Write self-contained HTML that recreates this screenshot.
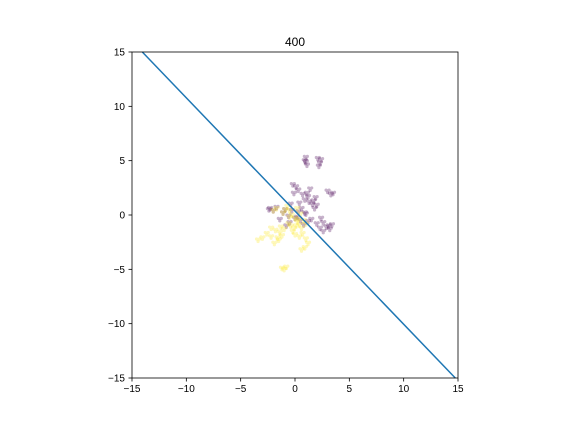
<!DOCTYPE html>
<html><head><meta charset="utf-8"><style>
body{margin:0;background:#fff}
svg text{font-family:"Liberation Sans","DejaVu Sans",sans-serif;font-size:10px;fill:#000}
</style></head><body>
<svg id="c" width="576" height="432">
<rect x="0" y="0" width="576" height="432" fill="#fff"/>
<g id="pts"></g>
<g id="ln"></g>
<rect x="132" y="52" width="326" height="326" fill="none" stroke="#000" stroke-width="0.8"/>
<g id="ax"></g>
<text x="295" y="46" text-anchor="middle" style="font-size:12px">400</text>
</svg>
<script>
const ticks=[-15,-10,-5,0,5,10,15];
const lineX=[-14.05,14.75];
const lineY=[15,-15];
const purpleX=[1.0,1.0,1.1,0.9,2.1,2.3,2.2,2.4,-0.2,0.1,0.3,-0.1,1.1,1.2,0.9,1.3,1.6,1.8,1.7,2.0,3.0,3.3,3.5,3.1,3.2,3.4,2.9,2.6,2.3,2.0,2.4,1.5,1.2,0.8,0.5,0.3,0.6,0.9,0.2,-0.3,-0.6,-0.9,-1.1,-2.3,-2.0,-1.7,-2.4,-1.4,-0.5,-0.8,1.9,0.7,0.4,1.4,2.6,-0.4,0.0,1.0];
const purpleY=[5.3,4.9,4.6,5.0,5.2,4.8,4.5,5.1,2.8,2.6,2.3,2.0,2.0,1.7,1.4,1.2,1.0,0.6,1.3,0.9,2.2,1.9,2.0,-1.0,-1.3,-0.9,-1.1,-0.7,-1.2,-0.8,-0.3,-0.4,-0.6,-0.9,-0.5,0.3,0.6,0.2,-0.2,0.4,-0.1,0.5,0.2,0.6,0.4,0.7,0.5,-0.4,-0.7,-1.0,1.6,1.9,1.1,2.4,-1.5,1.0,-0.3,0.1];
const yellowX=[-0.9,-1.1,-0.7,-0.5,-0.3,0.0,0.2,0.4,0.6,-0.2,0.1,0.3,0.5,0.8,1.0,-0.1,-0.4,-0.6,-1.0,-1.4,-1.8,-2.2,-2.6,-3.0,-3.4,-1.5,-1.9,-2.2,-1.6,-1.2,0.7,1.0,1.2,0.9,0.6,0.4,-1.2,-1.0,-0.8,-2.0,-1.7,0.2,-0.5,0.0,-1.3];
const yellowY=[0.5,0.2,0.8,0.4,0.0,-0.3,-0.6,-0.9,-1.2,-1.5,-1.0,-0.4,0.1,-0.5,-0.8,-1.2,-1.0,-0.8,-1.3,-1.6,-1.4,-1.2,-1.7,-2.1,-2.3,-2.3,-2.6,-2.0,-2.1,-1.9,-1.7,-2.2,-2.6,-3.0,-3.2,-2.0,-4.9,-5.0,-4.8,0.4,0.6,0.6,-0.2,-1.8,-1.1];
const X=v=>295+v*10.8667, Y=v=>215-v*10.8667;
const NS='http://www.w3.org/2000/svg';
const ax=document.getElementById('ax');
ticks.forEach(t=>{
 let l=document.createElementNS(NS,'line');
 l.setAttribute('x1',X(t));l.setAttribute('x2',X(t));l.setAttribute('y1',378);l.setAttribute('y2',381.5);l.setAttribute('stroke','#000');l.setAttribute('stroke-width','0.8');
 
 
 ax.appendChild(l);
 let tx=document.createElementNS(NS,'text');
 tx.setAttribute('x',X(t));tx.setAttribute('y',392);tx.setAttribute('text-anchor','middle');tx.textContent=(t<0?'\u2212'+(-t):t);
 
 
 ax.appendChild(tx);
 let l2=document.createElementNS(NS,'line');
 l2.setAttribute('x1',128.5);l2.setAttribute('x2',132);l2.setAttribute('y1',Y(t));l2.setAttribute('y2',Y(t));l2.setAttribute('stroke','#000');l2.setAttribute('stroke-width','0.8');
 
 
 ax.appendChild(l2);
 let ty=document.createElementNS(NS,'text');
 ty.setAttribute('x',125);ty.setAttribute('y',Y(t)+3.5);ty.setAttribute('text-anchor','end');ty.textContent=(t<0?'\u2212'+(-t):t);
 
 
 ax.appendChild(ty);
});
const pts=document.getElementById('pts');
function draw(xs,ys,col,name){
 xs.forEach((x,i)=>{
  for(let k=0;k<3;k++){
   let c=document.createElementNS(NS,'circle');
   c.setAttribute('cx',X(x)+(k-1)*1.5);c.setAttribute('cy',Y(ys[i])+((k%2)?1.5:-1));c.setAttribute('r',1.6);
   c.setAttribute('fill',col);c.setAttribute('fill-opacity',0.3);
   
   
   pts.appendChild(c);
  }
 });
}
draw(purpleX,purpleY,'#440154','purple-point');
draw(yellowX,yellowY,'#fde725','yellow-point');
const ln=document.createElementNS(NS,'line');
ln.setAttribute('x1',X(lineX[0]));ln.setAttribute('y1',Y(lineY[0]));ln.setAttribute('x2',X(lineX[1]));ln.setAttribute('y2',Y(lineY[1]));
ln.setAttribute('stroke','#1f77b4');ln.setAttribute('stroke-width','1.5');


document.getElementById('ln').appendChild(ln);
</script>
</body></html>
